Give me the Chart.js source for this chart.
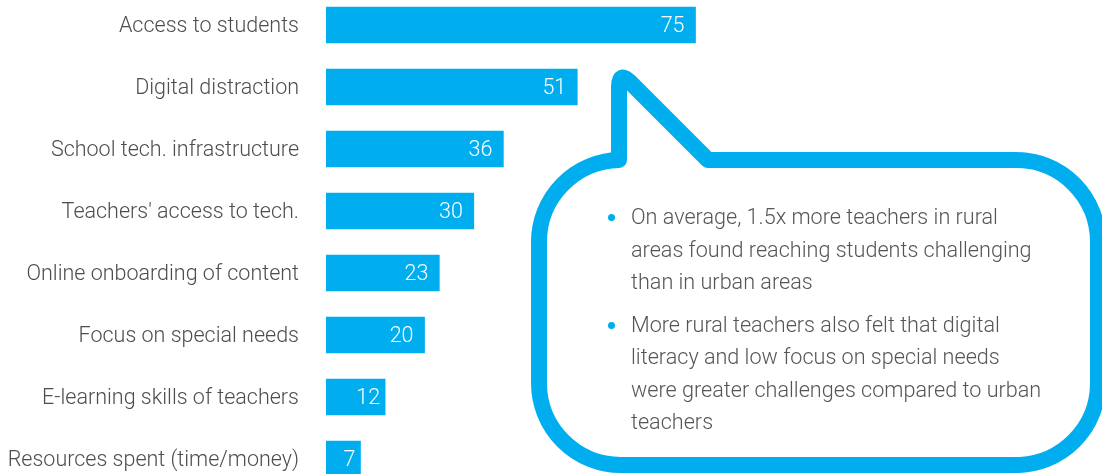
<!DOCTYPE html>
<html>
<head>
<meta charset="utf-8">
<script src="https://cdn.jsdelivr.net/npm/chart.js@4"></script>
<style>
  html, body { margin: 0; padding: 0; width: 1102px; height: 474px; overflow: hidden; background: #fff; }
  #chart { position: absolute; left: 0; top: -6px; }
  #bubble { position: absolute; left: 0; top: 0; }
  #notes { position: absolute; left: 608px; top: 201px; width: 470px; margin: 0; padding: 0; list-style: none;
           font-family: Roboto, sans-serif; font-weight: 300; font-size: 21.6px; line-height: 32.5px; color: #555;
           white-space: nowrap; }
  #notes li { position: relative; padding-left: 23px; margin-bottom: 10px; }
  #notes li::before { content: ""; position: absolute; left: 0; top: 13px; width: 7px; height: 7px; border-radius: 50%; background: #00aeef; }
</style>
</head>
<body>
<canvas id="chart" width="1102" height="496"></canvas>
<svg id="bubble" width="1102" height="474"></svg>
<ul id="notes">
  <li>On average, 1.5x more teachers in rural<br>areas found reaching students challenging<br>than in urban areas</li>
  <li>More rural teachers also felt that digital<br>literacy and low focus on special needs<br>were greater challenges compared to urban<br>teachers</li>
</ul>
<script>
// données
const categories = [
  'Access to students',
  'Digital distraction',
  'School tech. infrastructure',
  "Teachers' access to tech.",
  'Online onboarding of content',
  'Focus on special needs',
  'E-learning skills of teachers',
  'Resources spent (time/money)'
];
const values = [75, 51, 36, 30, 23, 20, 12, 7];

const bleu = '#00aeef';

// étiquettes blanches au bout des barres
const valueLabels = {
  id: 'valueLabels',
  afterDatasetsDraw(chart) {
    const ctx = chart.ctx;
    const meta = chart.getDatasetMeta(0);
    ctx.save();
    ctx.font = '300 21.5px Roboto';
    ctx.fillStyle = '#fff';
    ctx.textAlign = 'right';
    ctx.textBaseline = 'middle';
    meta.data.forEach((bar, i) => {
      const w = bar.x - bar.base;
      const pad = w < 60 ? 5 : 11;
      ctx.fillText(values[i], bar.x - pad, bar.y + 2);
    });
    ctx.restore();
  }
};

new Chart(document.getElementById('chart'), {
  type: 'bar',
  data: {
    labels: categories,
    datasets: [{
      data: values,
      backgroundColor: bleu,
      barThickness: 36
    }]
  },
  options: {
    indexAxis: 'y',
    responsive: false,
    animation: false,
    layout: { padding: 0 },
    plugins: { legend: { display: false }, tooltip: { enabled: false } },
    scales: {
      x: { display: false, min: 0, max: 157.5 },
      y: {
        grid: { display: false, drawTicks: false },
        border: { display: false },
        afterFit: s => { s.width = 326; s.paddingTop = 0; s.paddingBottom = 0; },
        ticks: {
          padding: 27,
          labelOffset: 2,
          color: '#4d4d4d',
          font: { family: 'Roboto', weight: '300', size: 21.5 }
        }
      }
    }
  },
  plugins: [valueLabels]
});

// bulle
const L = 539, R = 1098, T = 160, B = 465, r = 82;
const tx = 619, tipY = 71, jx = 708;
const path = [
  `M ${jx} ${T}`,
  `L ${R - r} ${T}`, `A ${r} ${r} 0 0 1 ${R} ${T + r}`,
  `L ${R} ${B - r}`, `A ${r} ${r} 0 0 1 ${R - r} ${B}`,
  `L ${L + r} ${B}`, `A ${r} ${r} 0 0 1 ${L} ${B - r}`,
  `L ${L} ${T + r}`, `A ${r} ${r} 0 0 1 ${L + r - 2} ${T}`,
  `L ${tx} ${T}`,
  `L ${tx} ${tipY + 16}`,
  `Q ${tx} ${tipY} ${tx + 11} ${tipY + 11}`,
  `L ${jx} ${T}`, 'Z'
].join(' ');
document.getElementById('bubble').innerHTML =
  `<path d="${path}" fill="none" stroke="${bleu}" stroke-width="16" stroke-linejoin="round"/>`;
</script>
</body>
</html>
